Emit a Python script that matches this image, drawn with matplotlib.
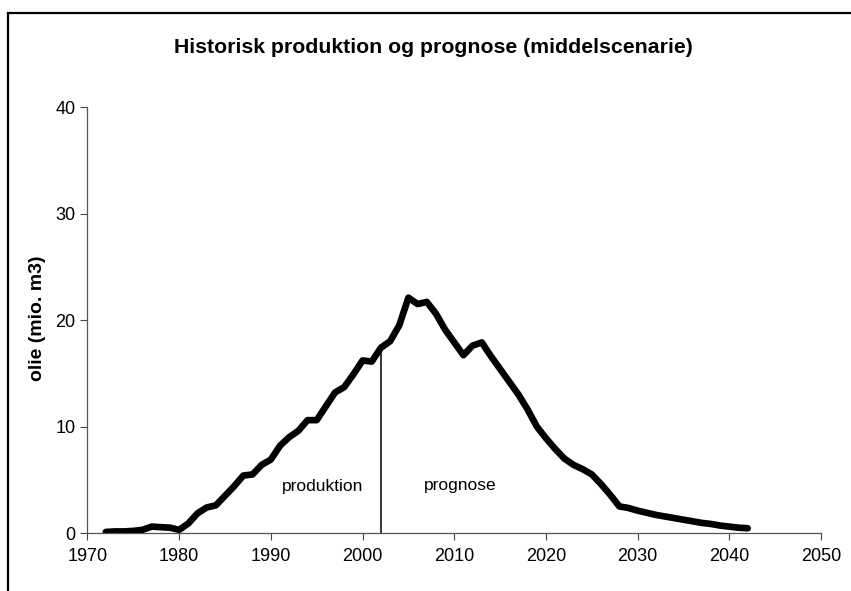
import matplotlib
matplotlib.use("Agg")
import matplotlib.pyplot as plt
from matplotlib.lines import Line2D

plt.rcParams["font.family"] = ["Liberation Sans", "DejaVu Sans"]

TITLE = "Historisk produktion og prognose (middelscenarie)"
YLABEL = "olie (mio. m3)"
years = list(range(1972, 2043))
oil = [0.1, 0.15, 0.15, 0.2, 0.3, 0.6, 0.55, 0.5, 0.3, 0.9,
       1.85, 2.4, 2.6, 3.5, 4.4, 5.4, 5.5, 6.4, 6.9, 8.2,
       9.0, 9.6, 10.6, 10.6, 11.9, 13.2, 13.7, 14.9, 16.2, 16.1,
       17.4, 18.0, 19.5, 22.1, 21.5, 21.7, 20.6, 19.1, 17.9, 16.7,
       17.6, 17.9, 16.6, 15.4, 14.2, 13.0, 11.6, 10.0, 8.9, 7.9,
       7.0, 6.4, 6.0, 5.5, 4.6, 3.6, 2.5, 2.35, 2.1, 1.9,
       1.7, 1.55, 1.4, 1.25, 1.1, 0.95, 0.85, 0.7, 0.6, 0.5,
       0.45]
split_year = 2002
split_value = 17.3
xticks = [1970, 1980, 1990, 2000, 2010, 2020, 2030, 2040, 2050]
yticks = [0, 10, 20, 30, 40]

fig = plt.figure(figsize=(8.51, 5.91), dpi=100)
ax = fig.add_axes([0.1028, 0.0981, 0.862, 0.7208])

ax.plot(years, oil, color="black", lw=4.8, solid_joinstyle="round",
        solid_capstyle="round")
ax.vlines(split_year, 0, split_value, color="black", lw=1.1)
ax.text(1995.6, 4.4, "produktion", ha="center", va="center", fontsize=12.5)
ax.text(2010.7, 4.5, "prognose", ha="center", va="center", fontsize=12.5)

ax.set_xlim(1970, 2050)
ax.set_ylim(0, 40)
ax.set_xticks(xticks)
ax.set_yticks(yticks)
ax.tick_params(axis="both", direction="out", length=5, width=0.8,
               labelsize=13, color="#444")
ax.tick_params(axis="x", pad=6)
for s in ["top", "right"]:
    ax.spines[s].set_visible(False)
for s in ["left", "bottom"]:
    ax.spines[s].set_color("#555")
    ax.spines[s].set_linewidth(0.9)

ax.set_ylabel(YLABEL, fontsize=14, fontweight="bold")
ax.yaxis.set_label_coords(-0.056, 0.505)
fig.text(0.509, 0.9105, TITLE, ha="center", va="baseline", fontsize=15.3,
         fontweight="bold")

# scanned frame around the chart
fy = 1 - 13 / 591
fx = 8 / 851
fig.add_artist(Line2D([fx, 1], [fy, fy], transform=fig.transFigure,
                      color="black", lw=1.6))
fig.add_artist(Line2D([fx, fx], [0, fy], transform=fig.transFigure,
                      color="black", lw=1.6))

fig.savefig("out.png", dpi=100, facecolor="white")
